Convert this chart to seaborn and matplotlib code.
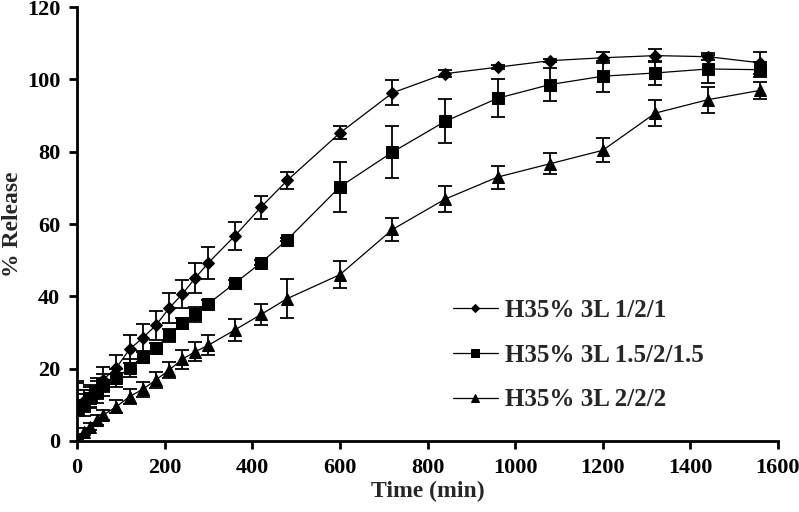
import matplotlib
matplotlib.use("Agg")
import matplotlib.pyplot as plt
import pandas as pd
import seaborn as sns

# 数据
time_min = [0, 15, 30, 45, 60, 90, 120, 150, 180, 210, 240, 270, 300,
            360, 420, 480, 600, 720, 840, 960, 1080, 1200, 1320, 1440, 1560]

rel_121 = [9, 11, 12.5, 14.5, 17, 20.3, 25.4, 28.5, 32, 36.7, 40.6, 45.1, 49.3,
           56.7, 64.7, 72.1, 85.2, 96.3, 101.6, 103.4, 105.2, 106, 106.6, 106.3, 104.6]
err_121 = [7, 3, 3, 3, 3.5, 3.5, 3.8, 3.8, 4, 4.1, 3.9, 4.1, 4.4,
           3.9, 3.2, 2.3, 1.8, 3.5, 1, 0.5, 0.5, 1.5, 1.7, 1, 3.1]

rel_15215 = [8.5, 10, 12, 13.5, 15.5, 17.3, 20.3, 23.3, 25.6, 29.3, 32.5, 35, 38,
             43.6, 49.3, 55.7, 70.3, 79.9, 88.4, 94.8, 98.6, 100.9, 101.8, 102.9, 102.7]
err_15215 = [8, 3, 3, 3, 3, 2.5, 2.5, 1.5, 1.5, 1.8, 1.6, 2, 1,
             1, 0.7, 0.5, 6.9, 7.1, 6.1, 5.3, 4.6, 4.3, 3.3, 4, 2]

rel_222 = [0, 2.6, 4, 5.8, 7.2, 9.5, 12.3, 14.3, 16.9, 19.6, 22.6, 24.7, 26.5,
           30.7, 35, 39.4, 46, 58.5, 66.9, 73, 76.7, 80.4, 90.7, 94.4, 97]
err_222 = [0.5, 1, 1, 1.5, 1.5, 1.8, 2, 2, 2.3, 2.3, 2.6, 2.7, 2.8,
           3, 3, 5.4, 3.7, 3.3, 3.5, 3.2, 2.9, 3.3, 3.5, 3.6, 2.3]

series_names = ["H35% 3L 1/2/1", "H35% 3L 1.5/2/1.5", "H35% 3L 2/2/2"]
series_vals = [rel_121, rel_15215, rel_222]
series_errs = [err_121, err_15215, err_222]
series_markers = ["D", "s", "^"]
marker_sizes = [6, 8, 8]

sns.set_theme(style="ticks")
plt.rcParams["font.family"] = ["Liberation Serif", "DejaVu Serif"]
plt.rcParams["font.weight"] = "bold"

fig = plt.figure(figsize=(7.99, 5.12), dpi=100)
ax = fig.add_axes([0.0964, 0.1387, 0.8773, 0.8473])

for name, vals, errs, mk, ms in zip(series_names, series_vals, series_errs,
                                    series_markers, marker_sizes):
    df = pd.DataFrame({"t": time_min, "r": vals})
    ax.errorbar(time_min, vals, yerr=errs, fmt="none", ecolor="black",
                elinewidth=1.3, capsize=5, capthick=1.3, zorder=2)
    sns.lineplot(data=df, x="t", y="r", ax=ax, color="black", linewidth=0.9,
                 marker=mk, markersize=ms, markeredgecolor="black",
                 markerfacecolor="black", label=name, zorder=3)

ax.set_xlim(0, 1600)
ax.set_ylim(0, 120)
ax.set_xticks(range(0, 1601, 200))
ax.set_yticks(range(0, 121, 20))
ax.set_xlabel("Time (min)", fontsize=17, fontweight="bold", labelpad=2)
ax.set_ylabel("% Release", fontsize=17, fontweight="bold", labelpad=3)

for s in ["top", "right"]:
    ax.spines[s].set_visible(False)
for s in ["left", "bottom"]:
    ax.spines[s].set_color("black")
    ax.spines[s].set_linewidth(2)
ax.tick_params(axis="both", direction="out", length=6, width=2, colors="black",
               labelsize=16, pad=6)
for lab in ax.get_xticklabels() + ax.get_yticklabels():
    lab.set_fontweight("bold")

# 图例：无边框，放在右下
leg = ax.legend(loc="lower left", bbox_to_anchor=(0.522, 0.045), frameon=False,
                fontsize=18, handlelength=1.8, handletextpad=0.3,
                labelspacing=0.87, borderaxespad=0, markerscale=0.7)
for t in leg.get_texts():
    t.set_fontweight("bold")

fig.savefig("out.png", dpi=100)
plt.close(fig)
